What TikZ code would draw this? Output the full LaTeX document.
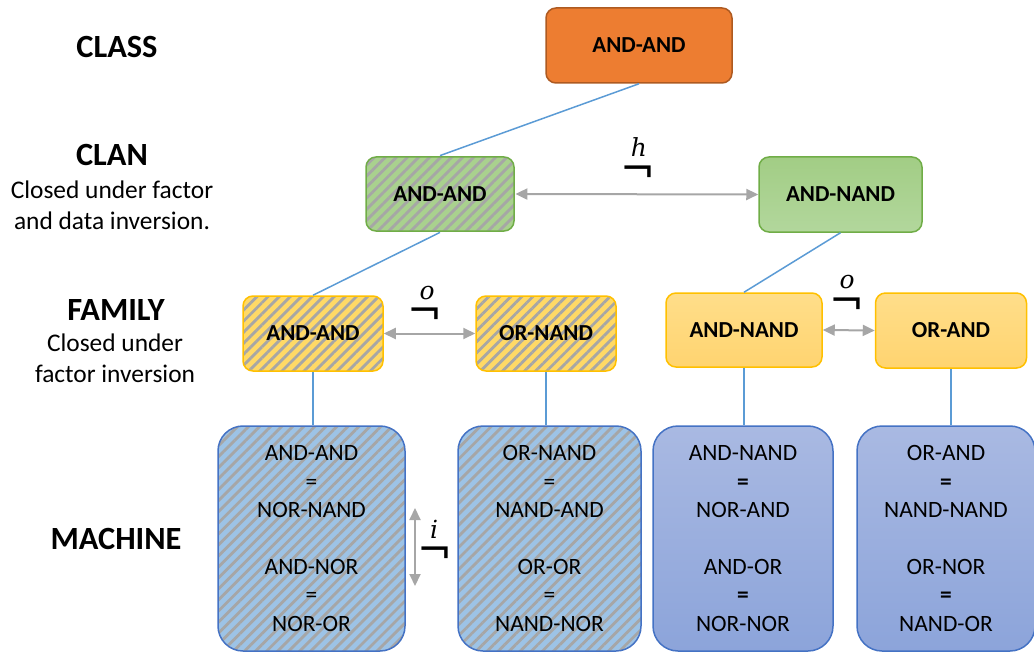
\documentclass[tikz,border=0pt]{standalone}
\usepackage{fontspec}
\setmainfont{Carlito}
\newfontfamily\opserif{DejaVu Serif}
\newfontfamily\symsans{DejaVu Sans}
\usetikzlibrary{arrows.meta,patterns.meta}

\definecolor{classfill}{HTML}{ED7D31}
\definecolor{classedge}{HTML}{AE5A21}
\definecolor{clanfill}{HTML}{A9D18E}
\definecolor{clanedge}{HTML}{70AD47}
\definecolor{famfill}{HTML}{FFD966}
\definecolor{famedge}{HTML}{FFC000}
\definecolor{machfill}{HTML}{9DC3E6}
\definecolor{machedge}{HTML}{4472C4}
\definecolor{hatchgray}{HTML}{A6A6A6}
\definecolor{linkblue}{HTML}{5B9BD5}
\definecolor{opgray}{HTML}{A6A6A6}
\definecolor{machlight}{HTML}{A9B9E2}
\definecolor{machdark}{HTML}{8CA4DA}
\definecolor{clantop}{HTML}{A2CD85}
\definecolor{clanbot}{HTML}{B2D79C}
\definecolor{famtop}{HTML}{FFDE8A}
\definecolor{fambot}{HTML}{FFD470}

\newcommand{\boxfont}{\fontsize{23}{26}\selectfont\bfseries}
\newcommand{\machfont}{\fontsize{23.5}{28.5}\selectfont}
\newcommand{\titlefont}{\fontsize{32.5}{34}\selectfont\bfseries}
\newcommand{\descfont}{\fontsize{25.5}{31}\selectfont}
\newcommand{\opfont}{\fontsize{25}{28}\selectfont\opserif\itshape}
\newcommand{\negfont}{\fontsize{42}{42}\selectfont\symsans}

\tikzset{
  x=1bp, y=-1bp,
  box/.style={rounded corners=10bp, inner sep=0pt, line width=1.5bp,
    align=center, font=\boxfont},
  hatched/.style={preaction={fill=#1},
    pattern={Lines[angle=45,distance=7.8bp,line width=2.8bp]},
    pattern color=hatchgray},
  classbox/.style={box, draw=classedge, fill=classfill},
  clanhatch/.style={box, draw=clanedge, hatched=clanfill},
  clanplain/.style={box, draw=clanedge, top color=clantop, bottom color=clanbot},
  famhatch/.style={box, draw=famedge, hatched=famfill},
  famplain/.style={box, draw=famedge, top color=famtop, bottom color=fambot},
  machbox/.style={rounded corners=25bp, inner sep=0pt, line width=1.5bp,
    align=center, font=\machfont, draw=machedge},
  machhatch/.style={machbox, hatched=machfill},
  machplain/.style={machbox, top color=machlight, bottom color=machdark},
  title/.style={font=\titlefont, inner sep=0pt},
  desc/.style={font=\descfont, align=center, inner sep=0pt},
  link/.style={draw=linkblue, line width=1.5bp},
  swap/.style={draw=opgray, line width=2bp, {Triangle[length=12bp,width=11bp]}-{Triangle[length=12bp,width=11bp]}},
  oplabel/.style={font=\opfont, inner sep=0pt},
  negsign/.style={font=\negfont, inner sep=0pt},
}

\begin{document}
\begin{tikzpicture}
\useasboundingbox (0,0) rectangle (1034,653);

% level titles
\node[title] (tclass) at (117,47) {CLASS};
\node[title] (tclan) at (112,155) {CLAN};
\node[desc] (dclan) at (112,205) {Closed under factor\\and data inversion.};
\node[title] (tfam) at (116,310) {FAMILY};
\node[desc] (dfam) at (115,358) {Closed under\\factor inversion};
\node[title] (tmach) at (116,539) {MACHINE};

% class
\node[classbox, minimum width=186bp, minimum height=75bp] (class) at (639,45.5) {AND-AND};

% clans
\node[clanhatch, minimum width=148bp, minimum height=74bp] (clan1) at (440,194) {AND-AND};
\node[clanplain, minimum width=163bp, minimum height=75bp] (clan2) at (840.5,194.5) {AND-NAND};

% families
\node[famhatch, minimum width=140bp, minimum height=75bp] (fam1) at (313,333.5) {AND-AND};
\node[famhatch, minimum width=140bp, minimum height=75bp] (fam2) at (546,333.5) {OR-NAND};
\node[famplain, minimum width=156bp, minimum height=74bp] (fam3) at (744,330) {AND-NAND};
\node[famplain, minimum width=151bp, minimum height=75bp] (fam4) at (951,330.5) {OR-AND};

% machines
\node[machhatch, minimum width=187bp, minimum height=225bp] (mach1) at (311.5,538.5)
  {AND-AND\\=\\NOR-NAND\\[28.5bp]AND-NOR\\=\\NOR-OR};
\node[machhatch, minimum width=183bp, minimum height=225bp] (mach2) at (549.5,538.5)
  {OR-NAND\\=\\NAND-AND\\[28.5bp]OR-OR\\=\\NAND-NOR};
\node[machplain, minimum width=180bp, minimum height=225bp] (mach3) at (743,538.5)
  {AND-NAND\\\textbf{=}\\NOR-AND\\[28.5bp]AND-OR\\\textbf{=}\\NOR-NOR};
\node[machplain, minimum width=178bp, minimum height=225bp] (mach4) at (946,538.5)
  {OR-AND\\\textbf{=}\\NAND-NAND\\[28.5bp]OR-NOR\\\textbf{=}\\NAND-OR};

% tree links
\draw[link] (class.south) -- (clan1.north);
\draw[link] (clan1.south) -- (fam1.north);
\draw[link] (clan2.south) -- (fam3.north);
\draw[link] (fam1.south) -- (fam1.south |- mach1.north);
\draw[link] (fam2.south) -- (fam2.south |- mach2.north);
\draw[link] (fam3.south) -- (fam3.south |- mach3.north);
\draw[link] (fam4.south) -- (fam4.south |- mach4.north);

% inversion operators
\draw[swap] (clan1.east) -- (clan2.west);
\node[oplabel] (hlab) at (639,147) {h};
\node[negsign] (hneg) at (638,175) {¬};

\draw[swap] (fam1.east) -- (fam2.west);
\node[oplabel] (olab1) at (427,293) {o};
\node[negsign] (oneg1) at (425.5,316.5) {¬};

\draw[swap] (fam3.east) -- (fam4.west);
\node[oplabel] (olab2) at (847,282) {o};
\node[negsign] (oneg2) at (847,306.5) {¬};

\coordinate (itop) at (415,508);
\coordinate (ibot) at (415,586);
\draw[swap] (itop) -- (ibot);
\node[oplabel] (ilab) at (434,529) {i};
\node[negsign] (ineg) at (435,556) {¬};
\end{tikzpicture}
\end{document}
